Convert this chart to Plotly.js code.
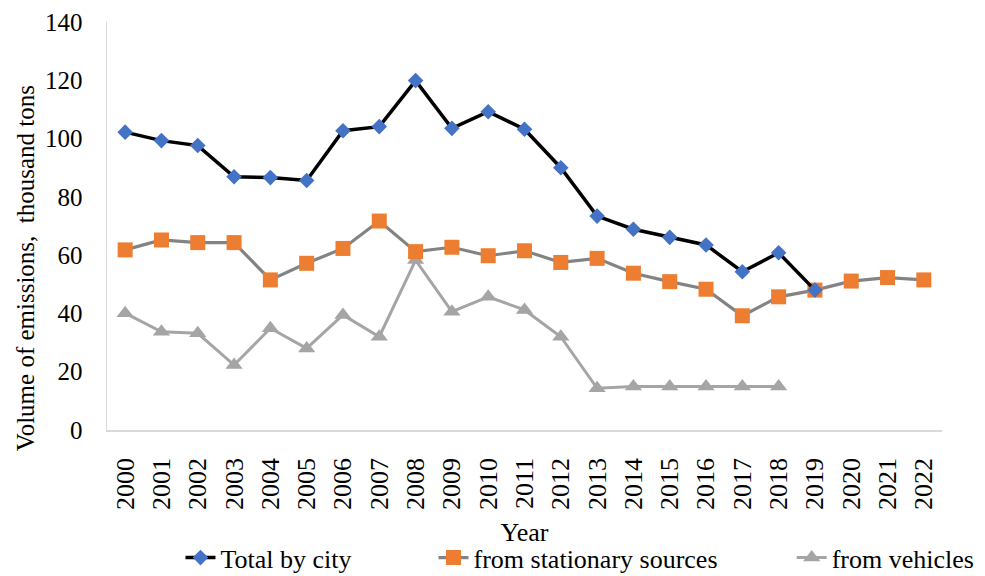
<!DOCTYPE html>
<html>
<head>
<meta charset="utf-8">
<script src="https://cdn.plot.ly/plotly-3.0.1.min.js"></script>
<style>
  html, body { margin: 0; padding: 0; background: #fff; overflow: hidden; }
  #chart { width: 985px; height: 576px; }
</style>
</head>
<body>
<div id="chart"></div>
<script>
const years = ['2000', '2001', '2002', '2003', '2004', '2005', '2006', '2007', '2008', '2009', '2010',
  '2011', '2012', '2013', '2014', '2015', '2016', '2017', '2018', '2019', '2020', '2021', '2022'];

const totalByCity = [102.2, 99.3, 97.6, 86.9, 86.6, 85.6, 102.7, 104.1, 119.9, 103.5, 109.2,
  103.2, 90.0, 73.4, 68.9, 66.1, 63.5, 54.3, 60.8, 48.0];

const stationary = [61.8, 65.2, 64.3, 64.3, 51.5, 57.2, 62.3, 71.7, 61.2, 62.7, 59.8,
  61.5, 57.5, 58.9, 53.8, 50.9, 48.3, 39.2, 45.7, 48.0, 51.1, 52.3, 51.5];

const vehicles = [40.1, 33.7, 33.2, 22.3, 34.9, 28.0, 39.5, 32.0, 58.3, 40.6, 45.7,
  41.2, 32.0, 14.3, 14.9, 14.9, 14.9, 14.9, 14.9];

const fuente = 'Liberation Serif, Times New Roman, serif';

const trazaVehiculos = {
  x: years.slice(0, vehicles.length),
  y: vehicles,
  type: 'scatter',
  mode: 'lines+markers',
  name: 'from vehicles',
  legend: 'legend3',
  line: { color: '#a5a5a5', width: 3 },
  marker: { symbol: 'triangle-up', size: 15, color: '#a5a5a5' }
};

const trazaEstacionaria = {
  x: years,
  y: stationary,
  type: 'scatter',
  mode: 'lines+markers',
  name: 'from stationary sources',
  legend: 'legend2',
  line: { color: '#838383', width: 3.2 },
  marker: { symbol: 'square', size: 15, color: '#ed7d31' }
};

const trazaTotal = {
  x: years.slice(0, totalByCity.length),
  y: totalByCity,
  type: 'scatter',
  mode: 'lines+markers',
  name: 'Total by city',
  legend: 'legend',
  line: { color: '#000000', width: 3.5 },
  marker: { symbol: 'diamond', size: 12, color: '#4472c4' }
};

function leyenda(x) {
  return {
    x: x,
    xanchor: 'left',
    y: -0.313,
    yanchor: 'middle',
    orientation: 'h',
    bgcolor: 'rgba(0,0,0,0)',
    font: { family: fuente, size: 26, color: '#000' }
  };
}

const layout = {
  width: 985,
  height: 576,
  paper_bgcolor: '#fff',
  plot_bgcolor: '#fff',
  font: { family: fuente, color: '#000' },
  margin: { l: 107, r: 43, t: 22, b: 146, autoexpand: false },
  showlegend: true,
  xaxis: {
    type: 'category',
    range: [-0.5, 22.5],
    tickangle: -90,
    tickfont: { family: fuente, size: 26, color: '#000' },
    ticklabelstandoff: 16,
    showgrid: false,
    zeroline: false,
    showline: true,
    linecolor: '#d9d9d9',
    linewidth: 1.5,
    ticks: '',
    title: { text: 'Year', font: { family: fuente, size: 26, color: '#000' }, standoff: 14 },
    automargin: false,
    fixedrange: true
  },
  yaxis: {
    range: [0, 140],
    dtick: 20,
    tickfont: { family: fuente, size: 25, color: '#000' },
    ticklabelstandoff: 18,
    showgrid: false,
    zeroline: false,
    showline: true,
    linecolor: '#d9d9d9',
    linewidth: 1.5,
    ticks: '',
    automargin: false,
    fixedrange: true
  },
  annotations: [{
    text: 'Volume of emissions,  thousand tons',
    textangle: -90,
    xref: 'paper',
    yref: 'paper',
    x: -0.098,
    y: 0.397,
    xanchor: 'center',
    yanchor: 'middle',
    showarrow: false,
    font: { family: fuente, size: 25, color: '#000' }
  }],
  legend: leyenda(0.088),
  legend2: leyenda(0.391),
  legend3: leyenda(0.820)
};

Plotly.newPlot('chart', [trazaVehiculos, trazaEstacionaria, trazaTotal], layout, {
  displayModeBar: false,
  staticPlot: true
});
</script>
</body>
</html>
